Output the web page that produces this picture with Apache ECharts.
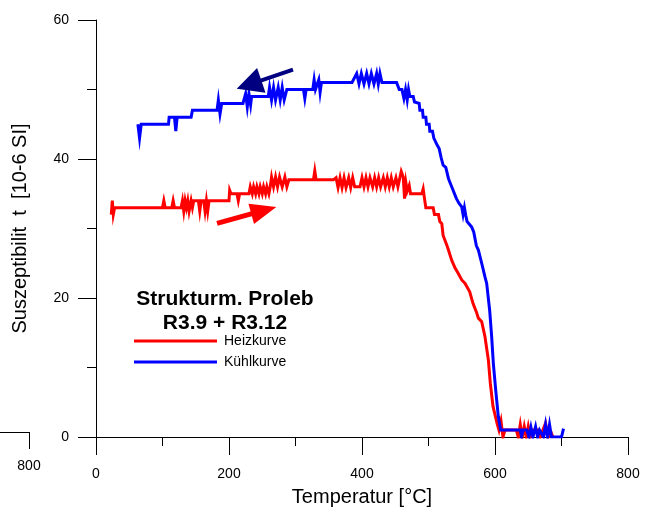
<!DOCTYPE html>
<html><head><meta charset="utf-8">
<script src="https://cdn.jsdelivr.net/npm/echarts@6/dist/echarts.min.js"></script>
<style>html,body{margin:0;padding:0;background:#fff}#c{width:650px;height:508px}</style>
</head><body><div id="c"></div>
<script>
// Heizkurve (heating curve): temperature [°C] and susceptibility
const heatT = [23,24.5,26,28, 100,102,104, 114,116,118, 128,130,132,134,136,138,140,143,145,
  147,154,156,158,162,164,166,168,170, 200,201,203, 212,214,216,
  230,232,235,237,240,242,245,247,250,252,255,257,260,262,
  264,267,270,273,276,280,284,287,290, 327,329,331,
  357,361,364,367,370,373,376,380,383,386,389,392,
  397,400,403,406,409,412,416,419,422,425,428,432,435,438,441,444,447,451,454,457,
  459,462,464,466,468,471,473, 490,492,494,496,
  507,509,515,517,520,522,525,528,530,535,540,545,550,555,562,567,572,575,580,585,590,593,597,603,
  606,609,612,615,632,635,638,641,644,647,650,653,656,665,668,672,676,680,685,687];
const heatV = [32,34,32,33, 33,34,33, 33,34,33, 33,34,32.5,34,33,34,32.5,34,33,
  34,34,32.5,34,34,32.5,34,32.5,34, 34,35.5,35, 35,34,35,
  35,36,35,36,35,36,35,36,35,36,35,36,35,36,
  37.4,36,37.4,36,37.4,36,37.4,36,37, 37,38.3,37,
  37,37.3,35.9,37.3,35.9,37.3,35.9,37.3,35.9,37.3,36,36,
  36,37.3,36,37.3,36,37.3,36,37.3,36,37.3,36,37.3,36,37.3,36,37.3,36,37.3,36,36,
  38.2,37.4,34.3,36.6,35.4,36.2,35, 35,35.7,34.3,33,
  33,32,32,31,30.7,29,29,27.5,26.9,25.4,24.3,23.5,22.6,22.1,20.9,19.2,18,17.1,16.6,14.4,11.1,7.7,4.4,2,
  1,2.3,0,1,1,0,1.8,0,1.5,0,1.5,0,1,1,0,1,2,0,0.5,0];
// Kühlkurve (cooling curve)
const coolT = [63,65.5,68, 109,110,112,118,120,122, 143,145, 182,184,186.5,189,
  221,225,227.5,230,232.5,234, 259,261,264,267,270,274,277,280,283,287,
  312,314,316,326,328,330,333,335,337,339,
  385,392,395.5,399,403,407,410.5,414,418,422,424.5,427,430,
  452,456,460,463,465.5,468,470,472,477,479,482,486,487,491,492,496,497,501,502,506,
  508,511,513,516,519,522,526,530,532,537,542,546,550,552,554,556,558,560,565,568,
  572,575,580,585,587.5,590,592,595,597.5,601,605,608.5,
  638,640,642,648,651,654,657,661,664,667,670,673,676,679,682,685,700,702.5,703];
const coolV = [45,43,45, 45,46,46.2,46,44,46, 46,47, 47,48.5,46.5,48,
  48,49.4,47.5,49.4,47.8,49, 49,50.3,48.5,50.3,48.5,50.3,48.5,50.3,48.5,50,
  50,48.7,50,50,51.4,50,50,51.4,49.6,51,
  51,52.3,50.8,52.3,50.8,52.3,50.8,52.3,50.8,52.3,50.8,52.3,51,
  51,50,50,48.7,50,48.5,50,49,49,48.2,48,48,47,47,46,46,45,45,44,44,
  43,43,42,41.5,40.2,39.1,38.8,37.2,36.7,35.5,34.3,33.6,33.1,32,33,31.9,31,30.9,30.2,29.5,
  27.5,26.9,25,23,22.1,22,18.2,14.4,10.6,6.8,2.9,1,
  1,0,1,1,0,1.4,0,1.5,0,1,1,0,1.8,0,1.8,0,0,1,1.2];
const seriesNames = ['Heizkurve', 'Kühlkurve'];
const xTicks = [0, 200, 400, 600, 800];
const yTicks = [0, 20, 40, 60];
const strayTick = [800];

const zip = (a, b) => a.map((t, i) => [t, b[i]]);
const FONT = 'Liberation Sans, Arial, sans-serif';
const chart = echarts.init(document.getElementById('c'), null, {renderer: 'canvas'});
chart.setOption({
  animation: false,
  backgroundColor: '#fff',
  textStyle: {fontFamily: FONT},
  title: {
    text: 'Strukturm. Proleb\nR3.9 + R3.12',
    left: 220, top: 282, textAlign: 'center',
    textStyle: {fontFamily: FONT, fontWeight: 'bold', fontSize: 21, lineHeight: 24, color: '#000'}
  },
  legend: {
    data: seriesNames, orient: 'vertical', left: 134, top: 334, padding: 0,
    itemWidth: 83, itemHeight: 3, icon: 'rect', itemGap: 7, selectedMode: false,
    textStyle: {fontFamily: FONT, fontSize: 14, color: '#000', padding: [0,0,0,2]}
  },
  grid: [
    {left: 96, top: 20, width: 532, height: 417, containLabel: false, outerBoundsMode: 'none'},
    {left: 0, top: 0, width: 29, height: 432, containLabel: false, outerBoundsMode: 'none'}
  ],
  xAxis: [{
    type: 'value', min: xTicks[0], max: xTicks[xTicks.length-1], interval: 200,
    name: 'Temperatur [°C]', nameLocation: 'middle', nameGap: 50,
    nameTextStyle: {fontFamily: FONT, fontSize: 20, color: '#000'},
    axisLine: {show: true, onZero: false, lineStyle: {color: '#000', width: 1}},
    axisTick: {show: true, length: 18, lineStyle: {color: '#000'}},
    minorTick: {show: true, splitNumber: 2, length: 9, lineStyle: {color: '#000'}},
    axisLabel: {margin: 30, fontFamily: FONT, fontSize: 14, color: '#000'},
    splitLine: {show: false}
  }, {
    gridIndex: 1, type: 'value', min: 600, max: 800, interval: 200,
    axisLine: {show: true, onZero: false, lineStyle: {color: '#000', width: 1}},
    axisTick: {show: true, length: 17, customValues: strayTick, lineStyle: {color: '#000'}},
    axisLabel: {margin: 27, customValues: strayTick, showMinLabel: false, fontFamily: FONT, fontSize: 14, color: '#000',
      formatter: v => (v === 800 ? '800' : '')},
    splitLine: {show: false}
  }],
  yAxis: [{
    type: 'value', min: yTicks[0], max: yTicks[yTicks.length-1], interval: 20,
    name: 'Suszeptibilit  t  [10-6 SI]', nameLocation: 'middle', nameGap: 66,
    nameTextStyle: {fontFamily: FONT, fontSize: 20, color: '#000'},
    axisLine: {show: true, onZero: false, lineStyle: {color: '#000', width: 1}},
    axisTick: {show: true, length: 18, lineStyle: {color: '#000'}},
    minorTick: {show: true, splitNumber: 2, length: 9, lineStyle: {color: '#000'}},
    axisLabel: {margin: 27, fontFamily: FONT, fontSize: 14, color: '#000'},
    splitLine: {show: false}
  }, {
    gridIndex: 1, type: 'value', min: 0, max: 60, show: false
  }],
  series: [{
    name: seriesNames[0], type: 'line', data: zip(heatT, heatV),
    showSymbol: false, symbol: 'none', silent: true,
    color: '#ff0000',
    lineStyle: {color: '#ff0000', width: 3, join: 'miter'},
    markLine: {
      silent: true, symbol: ['none', 'triangle'], symbolSize: [21, 26],
      label: {show: false},
      lineStyle: {color: '#ff0000', width: 5, type: 'solid'},
      data: [[{coord: [182, 30.75]}, {coord: [252.3, 32.6]}]]
    }
  }, {
    name: seriesNames[1], type: 'line', data: zip(coolT, coolV),
    showSymbol: false, symbol: 'none', silent: true,
    color: '#0000ff',
    lineStyle: {color: '#0000ff', width: 3, join: 'miter'},
    markLine: {
      silent: true, symbol: ['none', 'triangle'], symbolSize: [26, 26],
      label: {show: false},
      lineStyle: {color: '#000080', width: 4, type: 'solid'},
      data: [[{coord: [296.2, 52.87]}, {coord: [230.1, 50.7]}]]
    }
  }]
});
</script>
</body></html>
